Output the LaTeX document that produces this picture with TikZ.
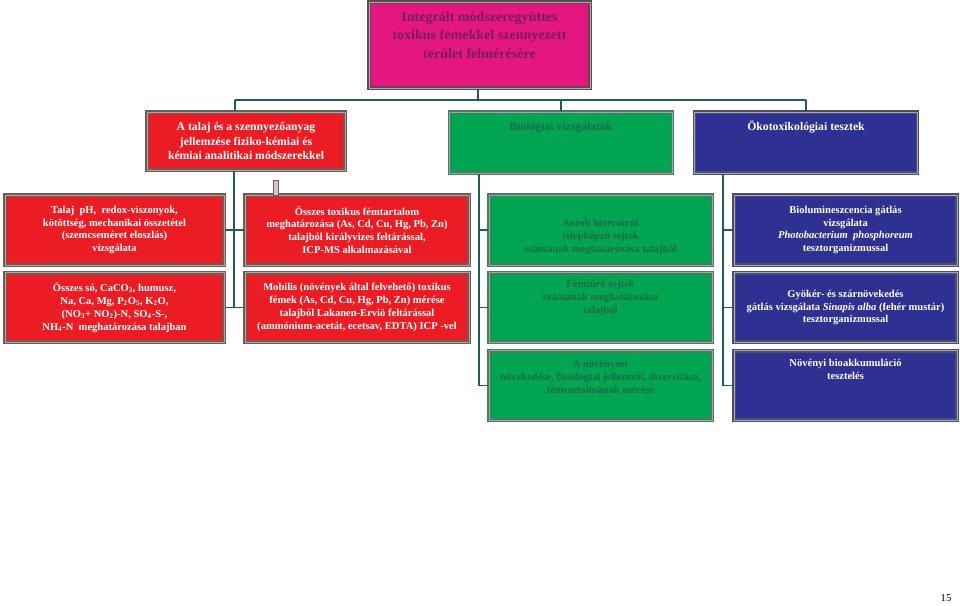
\documentclass[tikz,border=0pt]{standalone}
\usepackage{fontspec}
\setmainfont{Liberation Serif}

\definecolor{boxpink}{HTML}{E3177F}
\definecolor{pinktext}{HTML}{7A1C5C}
\definecolor{pinkframe}{HTML}{5A4A52}
\definecolor{pinkline}{HTML}{C89CB6}
\definecolor{boxred}{HTML}{EC1C24}
\definecolor{redframe}{HTML}{6F5C57}
\definecolor{redline}{HTML}{B8A39C}
\definecolor{boxgreen}{HTML}{00A551}
\definecolor{greentext}{HTML}{1D6A47}
\definecolor{greenframe}{HTML}{4C7A60}
\definecolor{greenline}{HTML}{8DB59E}
\definecolor{boxblue}{HTML}{2E3192}
\definecolor{blueframe}{HTML}{4B4D6B}
\definecolor{blueline}{HTML}{A5A7C8}
\definecolor{linkteal}{HTML}{1E5E56}

% struts to move the text of a box up or down
\newcommand{\padtop}[1]{\rule{0pt}{#1}}
\newcommand{\padbot}[1]{\rule[-#1]{0pt}{#1}}

\begin{document}
\begin{tikzpicture}[x=0.03cm,y=-0.03cm,
    box/.style={draw,align=center,line width=1.2pt,double distance=0.6pt,
      inner sep=2pt,minimum width=6.69cm,minimum height=2.08cm,
      font=\fontsize{9}{11}\selectfont\bfseries},
    redbox/.style={box,fill=boxred,draw=redframe,double=redline,text=white},
    greenbox/.style={box,fill=boxgreen,draw=greenframe,double=greenline,text=greentext},
    bluebox/.style={box,fill=boxblue,draw=blueframe,double=blueline,text=white},
    headbox/.style={minimum height=1.83cm,font=\fontsize{10}{12.5}\selectfont\bfseries},
    link/.style={draw=linkteal,line width=1.6pt}]

  \fill[white] (0,0) rectangle (960,605);
  \useasboundingbox (0,0) rectangle (960,605);

  % top
  \node[box,fill=boxpink,draw=pinkframe,double=pinkline,text=pinktext,
    minimum width=6.63cm,minimum height=2.58cm,
    font=\fontsize{12}{15.5}\selectfont\bfseries] at (479.5,45) (top)
    {Integrált módszeregyüttes\\toxikus fémekkel szennyezett\\terület felmérésére\padbot{17pt}};

  % second row
  \node[redbox,headbox,minimum width=5.94cm,minimum height=1.74cm] at (246,141) (talaj)
    {A talaj és a szennyezőanyag\\jellemzése fiziko-kémiai és\\kémiai analitikai módszerekkel};
  \node[greenbox,headbox] at (561,142.5) (bio) {Biológiai vizsgálatok\padbot{28pt}};
  \node[bluebox,headbox] at (806,142.5) (oko) {Ökotoxikológiai tesztek\padbot{28pt}};

  % third row
  \node[redbox,minimum width=6.57cm,minimum height=2.1cm] at (114.5,230) (ph)
    {Talaj~ pH,~ redox-viszonyok,\\kötöttség, mechanikai összetétel\\(szemcseméret eloszlás)\\vizsgálata};
  \node[redbox,minimum width=6.72cm,minimum height=2.1cm] at (357,230) (osszes)
    {Összes toxikus fémtartalom\\meghatározása (As, Cd, Cu, Hg, Pb, Zn)\\talajból királyvizes feltárással,\\ICP-MS alkalmazásával};
  \node[greenbox,minimum height=2.1cm] at (600.5,230) (aerob)
    {\padtop{18.5pt}Aerob heterotróf\\telepképző sejtek\\számának meghatározása talajból};
  \node[bluebox,minimum height=2.1cm] at (845.5,230) (biolum)
    {Biolumineszcencia gátlás\\vizsgálata\\\textit{Photobacterium~ phosphoreum}\\tesztorganizmussal};

  % fourth row
  \node[redbox,minimum width=6.57cm] at (114.5,307.5) (so)
    {Összes só, CaCO\textsubscript{3}, humusz,\\Na, Ca, Mg, P\textsubscript{2}O\textsubscript{5}, K\textsubscript{2}O,\\(NO\textsubscript{3}+ NO\textsubscript{2})-N, SO\textsubscript{4}-S-,\\NH\textsubscript{4}-N~ meghatározása talajban};
  \node[redbox,minimum width=6.72cm] at (357,307.5) (mobil)
    {Mobilis (növények által felvehető) toxikus\\fémek (As, Cd, Cu, Hg, Pb, Zn) mérése\\talajból Lakanen-Erviö feltárással\\(ammónium-acetát, ecetsav, EDTA) ICP -vel};
  \node[greenbox] at (600.5,307.5) (femturo)
    {Fémtűrő sejtek\\számának meghatározása\\talajból\padbot{18pt}};
  \node[bluebox] at (845.5,307.5) (gyoker)
    {Gyökér- és szárnövekedés\\gátlás vizsgálata \textit{Sinapis alba} (fehér mustár)\\tesztorganizmussal};

  % fifth row
  \node[greenbox] at (600.5,385.5) (novenyzet)
    {A növényzet\\növekedése, fiziológiai jellemzői, diverzitása,\\fémtartalmának mérése\padbot{15pt}};
  \node[bluebox] at (845.5,385.5) (bioakk)
    {Növényi bioakkumuláció\\tesztelés\padbot{27.5pt}};

  % connectors
  \coordinate (hub) at (478,100);
  \coordinate (busw) at (235,100);
  \coordinate (buse) at (806,100);
  \coordinate (rfoot) at (234,307.5);
  \coordinate (gfoot) at (479,385.5);
  \coordinate (bfoot) at (723,385.5);

  \draw[link] (top.south -| hub) -- (hub);
  \draw[link] (busw) -- (buse);
  \draw[link] (busw) -- (busw |- talaj.north);
  \draw[link] (bio.north |- busw) -- (bio.north);
  \draw[link] (buse) -- (oko.north);

  \draw[link] (talaj.south -| rfoot) -- (rfoot);
  \draw[link] (ph.east) -- (osszes.west);
  \draw[link] (so.east) -- (mobil.west);

  \draw[link] (bio.south -| gfoot) -- (gfoot) -- (novenyzet.west);
  \draw[link] (aerob.west -| gfoot) -- (aerob.west);
  \draw[link] (femturo.west -| gfoot) -- (femturo.west);

  \draw[link] (oko.south -| bfoot) -- (bfoot) -- (bioakk.west);
  \draw[link] (biolum.west -| bfoot) -- (biolum.west);
  \draw[link] (gyoker.west -| bfoot) -- (gyoker.west);

  % small tab above the metal content box
  \draw[draw=redframe,fill=redline!60,line width=0.5pt] (273,180) rectangle (278,195);

  \node[font=\fontsize{9}{10}\selectfont] at (946,598) (page) {15};
\end{tikzpicture}
\end{document}
